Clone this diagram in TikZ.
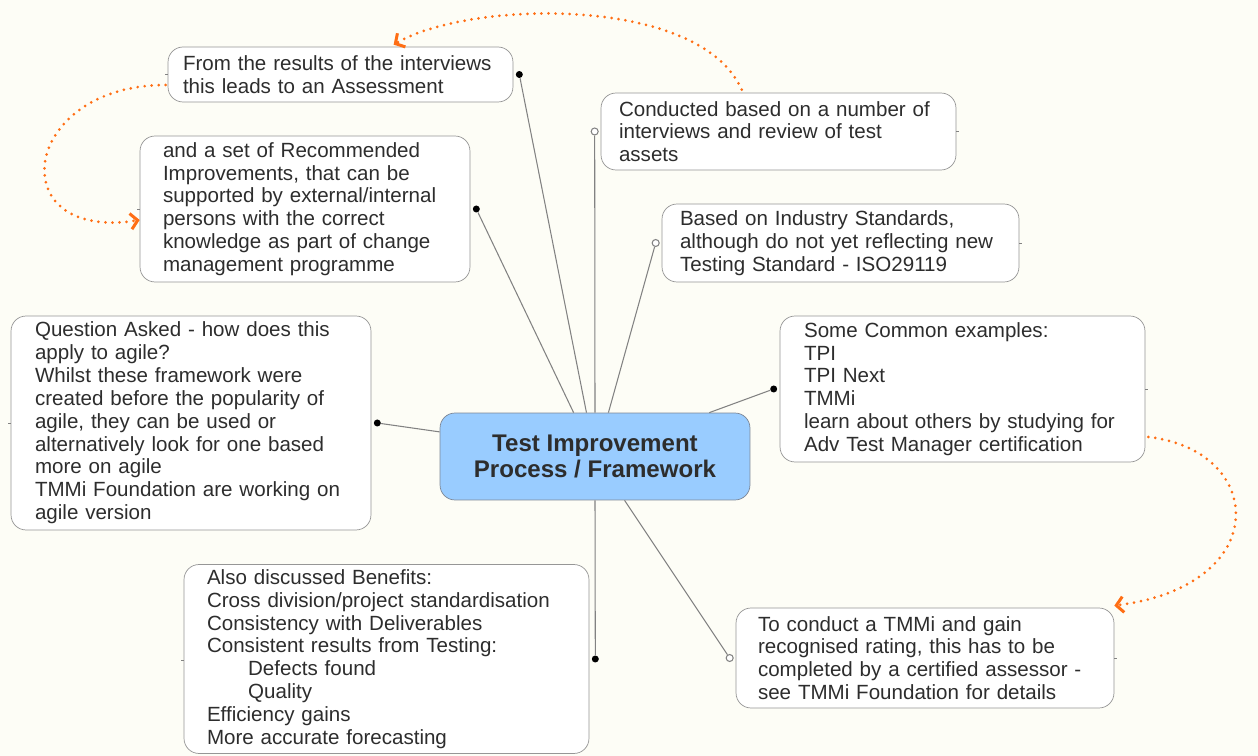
\documentclass[tikz,border=0pt]{standalone}
\usepackage{fontspec}
\setmainfont{Liberation Sans}
\usetikzlibrary{arrows.meta}

\definecolor{paper}{RGB}{253,253,246}
\definecolor{ink}{RGB}{45,45,45}
\definecolor{frame}{RGB}{150,150,150}
\definecolor{wire}{RGB}{130,130,130}
\definecolor{hubfill}{RGB}{153,204,255}
\definecolor{hubline}{RGB}{125,135,150}
\definecolor{note}{RGB}{255,110,20}

\begin{document}
\begin{tikzpicture}[x=0.02cm,y=-0.02cm]

\tikzset{topic/.style = {shape=rectangle, draw=frame, fill=white, rounded corners=0.3cm, align=left, text=ink, inner ysep=1pt, font=\fontsize{11.7}{13}\selectfont}}
\tikzset{main/.style = {shape=rectangle, draw=hubline, fill=hubfill, rounded corners=0.3cm, align=center, text=ink, minimum width=6.2cm, minimum height=1.74cm, font=\bfseries\fontsize{13.7}{14.8}\selectfont}}
\tikzset{dot/.style = {shape=circle, fill=black, inner sep=0pt, minimum size=0.14cm}}
\tikzset{ring/.style = {shape=circle, draw=wire, fill=white, line width=0.6pt, inner sep=0pt, minimum size=0.14cm}}
\tikzset{link/.style = {draw=wire, line width=0.6pt}}
\tikzset{stub/.style = {draw=wire, line width=0.5pt}}
\tikzset{hint/.style = {draw=note, line width=1.7pt, line cap=round, dash pattern=on 0pt off 4pt, -{Straight Barb[length=4pt,width=9pt]}}}

\useasboundingbox (0,0) rectangle (1258,756);
\fill[paper] (0,0) rectangle (1258,756);

% centre
\node[main] (hub) at (595,456.5) {Test Improvement\\Process / Framework};

% topics
\node[topic, text width=6.3cm, inner xsep=0.3cm, minimum height=1.1cm] (assess) at (340.5,74.5)
  {From the results of the interviews\\this leads to an Assessment};
\node[topic, text width=5.68cm, inner xsep=0.46cm, minimum height=2.92cm] (recommend) at (305,209)
  {and a set of Recommended\\Improvements, that can be\\supported by external/internal\\persons with the correct\\knowledge as part of change\\management programme};
\node[topic, text width=6.38cm, inner xsep=0.36cm, minimum height=1.54cm] (conduct) at (778.5,131.5)
  {Conducted based on a number of\\interviews and review of test\\assets};
\node[topic, text width=6.42cm, inner xsep=0.36cm, minimum height=1.56cm] (standard) at (840.5,243)
  {Based on Industry Standards,\\although do not yet reflecting new\\Testing Standard - ISO29119};
\node[topic, text width=6.34cm, inner xsep=0.48cm, minimum height=2.92cm] (examples) at (962.5,389)
  {Some Common examples:\\TPI\\TPI Next\\TMMi\\learn about others by studying for\\Adv Test Manager certification};
\node[topic, text width=6.68cm, inner xsep=0.44cm, minimum height=2cm] (rating) at (925,658)
  {To conduct a TMMi and gain\\recognised rating, this has to be\\completed by a certified assessor -\\see TMMi Foundation for details};
\node[topic, text width=7.18cm, inner xsep=0.46cm, minimum height=3.78cm] (benefits) at (386.5,659)
  {Also discussed Benefits:\\Cross division/project standardisation\\Consistency with Deliverables\\Consistent results from Testing:\\\hspace*{2em}Defects found\\\hspace*{2em}Quality\\Efficiency gains\\More accurate forecasting};
\node[topic, text width=6.24cm, inner xsep=0.48cm, minimum height=4.28cm] (agile) at (191,423)
  {Question Asked - how does this\\apply to agile?\\Whilst these framework were\\created before the popularity of\\agile, they can be used or\\alternatively look for one based\\more on agile\\TMMi Foundation are working on\\agile version};

% ends
\node[dot] (assess-pt) at ([xshift=0.12cm]assess.east) {};
\node[dot] (recommend-pt) at ([xshift=0.12cm]recommend.east) {};
\node[ring] (conduct-pt) at ([xshift=-0.12cm]conduct.west) {};
\node[ring] (standard-pt) at ([xshift=-0.12cm]standard.west) {};
\node[dot] (examples-pt) at ([xshift=-0.12cm]examples.west) {};
\node[ring] (rating-pt) at ([xshift=-0.12cm]rating.west) {};
\node[dot] (benefits-pt) at ([xshift=0.12cm]benefits.east) {};
\node[dot] (agile-pt) at ([xshift=0.12cm]agile.east) {};

% links
\draw[link] (hub.101.7) -- (assess-pt);
\draw[link] (hub.116.8) -- (recommend-pt);
\draw[link] (hub.north) -- (conduct-pt);
\draw[link] (hub.73.4) -- (standard-pt);
\draw[link] (hub.21.2) -- (examples-pt);
\draw[link] (hub.304.6) -- (rating-pt);
\draw[link] (hub.south) -- (benefits-pt);
\draw[link] (hub.171.4) -- (agile-pt);

% stubs
\draw[stub] (assess.west) -- ++(-3,0);
\draw[stub] (recommend.west) -- ++(-3,0);
\draw[stub] (conduct.east) -- ++(3,0);
\draw[stub] (standard.east) -- ++(3,0);
\draw[stub] (examples.east) -- ++(3,0);
\draw[stub] (rating.east) -- ++(3,0);
\draw[stub] ([yshift=-0.02cm]benefits.west) -- ++(-3,0);
\draw[stub] (agile.west) -- ++(-3,0);

% hints
\draw[hint] ([xshift=2.82cm,yshift=0.06cm]conduct.north west) .. controls (700,-5) and (470,0) .. ([xshift=4.52cm,yshift=0.04cm]assess.north west);
\draw[hint] ([xshift=-0.04cm,yshift=-0.21cm]assess.west) .. controls (20,85) and (0,242) .. ([yshift=-0.22cm]recommend.west);
\draw[hint] ([xshift=0.06cm,yshift=-0.96cm]examples.east) .. controls (1265,450) and (1275,585) .. ([yshift=0.04cm]rating.north east);

\end{tikzpicture}
\end{document}
